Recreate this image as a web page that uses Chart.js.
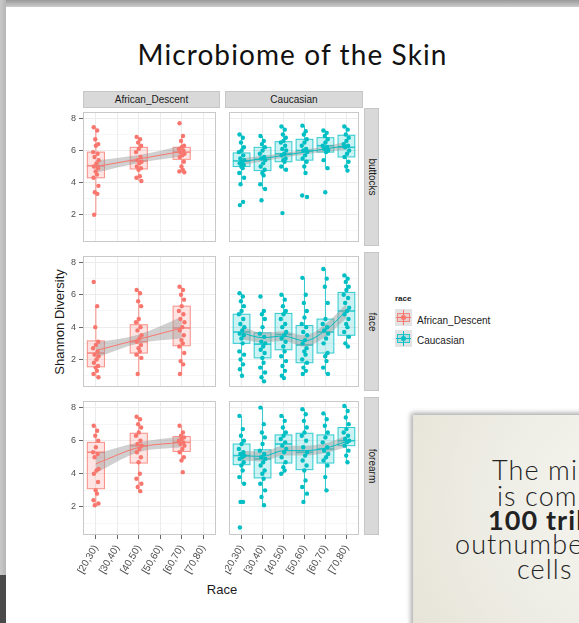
<!DOCTYPE html>
<html>
<head>
<meta charset="utf-8">
<script src="https://cdn.jsdelivr.net/npm/chart.js@4.4.1/dist/chart.umd.min.js"></script>
<style>
body{margin:0;width:579px;height:623px;overflow:hidden;background:#fff;position:relative;font-family:"Liberation Sans",Arial,sans-serif}
.abs{position:absolute}
canvas{position:absolute}
#frameTop{left:0;top:0;width:579px;height:7px;background:linear-gradient(to bottom,#9a9a9a,#cdcdcd)}
#frameLeft{left:0;top:0;width:6px;height:575px;background:linear-gradient(to right,#c9c9c9,#b5b5b5)}
#frameDark{left:0;top:575px;width:6px;height:48px;background:#4a4a4a}
#title{left:6px;top:39px;width:573px;text-align:center;font-family:Lato,"Noto Sans",sans-serif;font-size:28px;line-height:30px;color:#111;letter-spacing:1.1px}
.strip{background:#d9d9d9;border:1px solid #c6c6c6;box-sizing:border-box;color:#1a1a1a;font-size:10px;text-align:center}
.colstrip{height:17px;line-height:15px}
.rowstrip{width:15px}
.rowstrip span{position:absolute;left:50%;top:50%;transform:translate(-50%,-50%) rotate(90deg);white-space:nowrap}
.axtitle{color:#1a1a1a;font-size:13px;white-space:nowrap}
.lkey{width:17px;height:17px;background:#e3e3e3}
.lkey div{position:absolute}
.ltext{font-size:10px;color:#1a1a1a;white-space:nowrap}
#note{left:413px;top:415px;width:180px;height:220px;background:radial-gradient(circle at 120% 40%,#f5f4ef 0%,#eeede5 55%,#e6e4d7 100%);box-shadow:-2px -2px 5px rgba(0,0,0,0.35);overflow:hidden}
#note div{position:absolute;white-space:nowrap;font-family:Lato,"Noto Sans",sans-serif;font-weight:300;font-size:27px;line-height:26px;color:#222;letter-spacing:1.1px}
</style>
</head>
<body>
<div id="frameTop" class="abs"></div>
<div id="frameLeft" class="abs"></div>
<div id="frameDark" class="abs"></div>
<div id="title" class="abs">Microbiome of the Skin</div>

<div class="abs strip colstrip" style="left:83px;top:91px;width:137px">African_Descent</div>
<div class="abs strip colstrip" style="left:225px;top:91px;width:138px">Caucasian</div>
<div class="abs strip rowstrip" style="left:364px;top:108px;height:138px"><span>buttocks</span></div>
<div class="abs strip rowstrip" style="left:364px;top:252px;height:139px"><span>face</span></div>
<div class="abs strip rowstrip" style="left:364px;top:397px;height:138px"><span>forearm</span></div>

<div class="abs axtitle" style="left:59px;top:322px;transform:translate(-50%,-50%) rotate(-90deg)">Shannon Diversity</div>
<div class="abs axtitle" style="left:222px;top:589px;transform:translate(-50%,-50%)">Race</div>

<div class="abs ltext" style="left:395px;top:294px;font-size:8px;font-weight:bold">race</div>
<div id="key1" class="abs lkey" style="left:395px;top:309px"></div>
<div class="abs ltext" style="left:417px;top:315px">African_Descent</div>
<div id="key2" class="abs lkey" style="left:395px;top:330px"></div>
<div class="abs ltext" style="left:417px;top:335px">Caucasian</div>

<canvas id="p1" width="157" height="138" style="left:63px;top:108px"></canvas>
<canvas id="p2" width="138" height="138" style="left:225px;top:108px"></canvas>
<canvas id="p3" width="157" height="139" style="left:63px;top:252px"></canvas>
<canvas id="p4" width="138" height="139" style="left:225px;top:252px"></canvas>
<canvas id="p5" width="157" height="186" style="left:63px;top:397px"></canvas>
<canvas id="p6" width="138" height="186" style="left:225px;top:397px"></canvas>

<div id="note" class="abs">
  <div style="left:79px;top:42px">The microbiome</div>
  <div style="left:84px;top:68px">is composed of</div>
  <div style="left:75px;top:92px;font-weight:bold">100 trillion cells</div>
  <div style="left:42px;top:116px">outnumber human</div>
  <div style="left:104px;top:141px">cells 10 to 1</div>
</div>

<script>
// age groups on the x axis
var ages = ['[20,30)', '[30,40)', '[40,50)', '[50,60)', '[60,70)', '[70,80)'];

// raw Shannon values per age group (null = no samples)
var afrButtocksPts = [
    [7.45, 7.25, 6.7, 6.4, 6.3, 5.9, 5.8, 5.6, 5.4, 5.2, 5.0, 4.9, 4.7, 4.5, 4.3, 3.8, 3.4, 3.3, 2.0],
    null,
    [6.85, 6.7, 6.5, 6.3, 6.1, 5.9, 5.6, 5.4, 5.3, 5.2, 5.0, 4.9, 4.8, 4.4, 4.3, 4.1],
    null,
    [7.7, 6.9, 6.6, 6.3, 6.2, 6.1, 6.0, 5.9, 5.8, 5.7, 5.6, 5.3, 5.0, 4.8, 4.7, 4.65],
    null
];
var cauButtocksPts = [
    [7.0, 6.8, 6.5, 6.2, 6.0, 5.9, 5.7, 5.5, 5.4, 5.3, 5.2, 5.1, 5.0, 4.9, 4.6, 4.3, 3.9, 2.8, 2.6],
    [6.9, 6.6, 6.4, 6.2, 6.0, 5.8, 5.6, 5.5, 5.4, 5.2, 5.0, 4.8, 4.6, 4.45, 3.9, 3.6, 2.9],
    [7.5, 7.3, 7.0, 6.8, 6.6, 6.5, 6.3, 6.1, 6.0, 5.8, 5.7, 5.5, 5.4, 5.3, 5.0, 4.8, 2.1],
    [7.55, 7.2, 7.0, 6.7, 6.5, 6.3, 6.1, 6.0, 5.9, 5.7, 5.5, 5.3, 5.0, 4.6, 3.2, 3.1],
    [7.25, 7.1, 6.9, 6.7, 6.5, 6.3, 6.2, 6.1, 6.0, 5.9, 5.4, 4.9, 3.4],
    [7.5, 7.3, 7.0, 6.8, 6.6, 6.4, 6.3, 6.2, 6.0, 5.8, 5.6, 5.3, 5.0, 4.75]
];
var afrFacePts = [
    [6.8, 5.3, 4.0, 3.1, 2.9, 2.7, 2.5, 2.3, 2.2, 2.0, 1.8, 1.6, 1.5, 1.3, 1.1, 0.9],
    null,
    [6.3, 6.1, 5.6, 5.3, 4.5, 4.3, 4.0, 3.8, 3.5, 3.3, 3.1, 2.9, 2.7, 2.5, 2.3, 2.1, 1.1],
    null,
    [6.5, 6.3, 6.0, 5.7, 5.3, 5.0, 4.8, 4.5, 4.3, 4.0, 3.8, 3.5, 3.2, 3.0, 2.8, 2.4, 1.9, 1.7, 1.1],
    null
];
var cauFacePts = [
    [6.1, 5.9, 5.6, 5.3, 5.0, 4.8, 4.5, 4.2, 4.0, 3.8, 3.6, 3.5, 3.3, 3.0, 2.5, 2.3, 2.0, 1.7, 1.4, 1.0],
    [5.9, 5.0, 4.8, 4.5, 4.0, 3.6, 3.4, 3.1, 3.0, 2.8, 2.6, 2.4, 2.1, 1.8, 1.5, 1.2, 0.9, 0.65],
    [6.0, 5.7, 5.3, 5.0, 4.8, 4.5, 4.2, 4.0, 3.7, 3.5, 3.3, 3.1, 2.8, 2.5, 2.2, 1.9, 1.6, 1.3, 1.0, 0.85],
    [7.05, 6.0, 5.5, 5.0, 4.6, 4.2, 4.0, 3.7, 3.5, 3.2, 3.0, 2.7, 2.5, 2.3, 2.0, 1.8, 1.5, 1.3, 1.1],
    [7.6, 7.0, 6.5, 5.5, 4.5, 4.2, 4.0, 3.8, 3.6, 3.3, 3.0, 2.4, 2.2, 1.9, 1.5, 1.1],
    [7.2, 7.0, 6.8, 6.5, 6.3, 6.0, 5.8, 5.5, 5.2, 5.0, 4.8, 4.5, 4.2, 4.0, 3.7, 3.4, 3.0, 2.8]
];
var afrForearmPts = [
    [6.9, 6.6, 6.3, 6.0, 5.6, 5.3, 5.2, 5.0, 4.3, 4.2, 4.0, 3.5, 3.0, 2.8, 2.4, 2.2, 2.1],
    null,
    [7.45, 7.3, 7.0, 6.8, 6.5, 6.3, 6.0, 5.8, 5.7, 5.5, 5.3, 5.0, 4.7, 4.0, 3.7, 3.4, 3.2, 2.95],
    null,
    [6.9, 6.5, 6.3, 6.2, 6.1, 6.0, 5.9, 5.8, 5.7, 5.5, 5.3, 5.0, 4.8, 4.1],
    null
];
var cauForearmPts = [
    [7.5, 6.7, 6.3, 6.0, 5.8, 5.5, 5.3, 5.2, 5.1, 5.0, 4.9, 4.7, 4.5, 4.2, 3.8, 3.4, 2.3, 2.3, 0.75],
    [8.0, 7.0, 6.5, 6.2, 5.8, 5.4, 5.2, 5.0, 4.9, 4.7, 4.5, 4.2, 4.0, 3.7, 3.4, 3.0, 2.6, 2.1],
    [7.5, 7.2, 6.8, 6.5, 6.3, 6.1, 5.9, 5.7, 5.5, 5.3, 5.0, 4.7, 4.4, 4.2, 4.0],
    [7.9, 7.6, 7.2, 6.8, 6.5, 6.3, 6.0, 5.6, 5.3, 5.1, 4.8, 4.5, 4.2, 3.6, 3.2, 2.8, 2.3],
    [7.65, 7.3, 6.9, 6.5, 6.2, 5.9, 5.6, 5.4, 5.2, 5.0, 4.8, 4.5, 3.8, 3.0],
    [8.1, 7.8, 7.4, 7.0, 6.7, 6.5, 6.3, 6.1, 6.0, 5.9, 5.7, 5.4, 5.1, 4.7]
];

// box stats per age group: [whisker low, q1, median, q3, whisker high]
var afrButtocksBox = [[2.0, 4.3, 5.05, 5.9, 7.45], null, [4.1, 4.85, 5.35, 6.2, 6.85], null, [4.65, 5.45, 5.9, 6.2, 6.9], null];
var cauButtocksBox = [[3.9, 5.0, 5.35, 5.85, 7.0], [3.6, 4.75, 5.45, 6.2, 6.9], [4.75, 5.3, 5.8, 6.55, 7.5],
    [4.55, 5.4, 6.0, 6.7, 7.55], [4.9, 5.9, 6.3, 6.8, 7.25], [4.75, 5.6, 6.2, 6.95, 7.5]];
var afrFaceBox = [[0.9, 1.55, 2.4, 3.15, 5.3], null, [1.1, 2.4, 3.1, 4.15, 6.3], null, [1.1, 2.85, 3.95, 5.3, 6.5], null];
var cauFaceBox = [[1.0, 3.0, 3.7, 4.8, 6.1], [0.65, 2.1, 2.95, 3.65, 5.0], [0.85, 2.6, 3.55, 4.85, 6.0],
    [1.1, 1.8, 2.9, 4.1, 7.05], [1.1, 2.4, 3.7, 4.5, 7.6], [2.8, 3.5, 5.0, 6.15, 7.2]];
var afrForearmBox = [[2.1, 3.1, 5.3, 5.9, 6.9], null, [2.95, 4.65, 5.7, 6.45, 7.45], null, [4.8, 5.35, 5.9, 6.25, 6.9], null];
var cauForearmBox = [[3.4, 4.55, 5.1, 5.8, 7.5], [2.1, 3.75, 4.9, 5.45, 8.0], [4.0, 4.65, 5.8, 6.35, 7.5],
    [2.3, 4.25, 5.3, 6.45, 7.9], [3.0, 4.65, 5.5, 6.35, 7.65], [4.7, 5.7, 6.0, 6.8, 8.1]];

// smoothed trend with its confidence band
var afrButtocksFit = [5.0, null, 5.47, null, 5.95, null];
var afrButtocksLo  = [4.62, null, 5.22, null, 5.62, null];
var afrButtocksHi  = [5.38, null, 5.72, null, 6.28, null];
var cauButtocksFit = [5.3, 5.5, 5.7, 5.9, 6.1, 6.3];
var cauButtocksLo  = [5.08, 5.33, 5.55, 5.75, 5.93, 6.05];
var cauButtocksHi  = [5.52, 5.67, 5.85, 6.05, 6.27, 6.55];
var afrFaceFit = [2.55, null, 3.25, null, 3.95, null];
var afrFaceLo  = [2.1, null, 3.0, null, 3.3, null];
var afrFaceHi  = [3.05, null, 3.55, null, 4.65, null];
var cauFaceFit = [3.65, 3.35, 3.45, 3.15, 3.8, 5.0];
var cauFaceLo  = [3.25, 3.05, 3.15, 2.8, 3.4, 4.55];
var cauFaceHi  = [4.05, 3.65, 3.75, 3.5, 4.2, 5.45];
var afrForearmFit = [4.6, null, 5.6, null, 5.9, null];
var afrForearmLo  = [4.05, null, 5.3, null, 5.6, null];
var afrForearmHi  = [5.2, null, 5.9, null, 6.25, null];
var cauForearmFit = [5.1, 5.05, 5.4, 5.4, 5.55, 5.95];
var cauForearmLo  = [4.8, 4.75, 5.1, 5.1, 5.25, 5.6];
var cauForearmHi  = [5.4, 5.35, 5.7, 5.7, 5.85, 6.3];

var COLORS = {
    afr: {main: '#F8766D', fill: 'rgba(248,118,109,0.2)', edge: 'rgba(248,118,109,0.8)'},
    cau: {main: '#00BFC4', fill: 'rgba(0,191,196,0.2)', edge: 'rgba(0,191,196,0.8)'}
};
// fixed horizontal spread of points (instead of random jitter)
var JIT = [-0.1, 0.06, -0.03, 0.11, 0.0, -0.13, 0.08, -0.06, 0.13, 0.03, -0.09, 0.1, -0.01, 0.05, -0.11, 0.12, -0.05, 0.07, -0.08, 0.02];
var FONT = '"Liberation Sans", Arial, sans-serif';

var boxPlugin = {
    id: 'boxes',
    beforeDatasetsDraw: function(chart, args, opts){
        var ctx = chart.ctx;
        var xs = chart.scales.x, ys = chart.scales.y;
        ctx.save();
        opts.stats.forEach(function(s, i){
            if(!s) return;
            var cx = xs.getPixelForValue(i);
            var hw = xs.getPixelForValue(i + 0.4) - cx;
            var lo = ys.getPixelForValue(s[0]), q1 = ys.getPixelForValue(s[1]);
            var med = ys.getPixelForValue(s[2]), q3 = ys.getPixelForValue(s[3]);
            var hi = ys.getPixelForValue(s[4]);
            ctx.fillStyle = opts.fill;
            ctx.fillRect(cx - hw, q3, hw * 2, q1 - q3);
            ctx.strokeStyle = opts.edge;
            ctx.lineWidth = 1;
            ctx.strokeRect(cx - hw, q3, hw * 2, q1 - q3);
            ctx.beginPath();
            ctx.moveTo(cx, q1); ctx.lineTo(cx, lo);
            ctx.moveTo(cx, q3); ctx.lineTo(cx, hi);
            ctx.stroke();
            ctx.lineWidth = 1.6;
            ctx.beginPath();
            ctx.moveTo(cx - hw, med); ctx.lineTo(cx + hw, med);
            ctx.stroke();
        });
        ctx.restore();
    }
};

var borderPlugin = {
    id: 'panelBorder',
    afterDraw: function(chart){
        var a = chart.chartArea, ctx = chart.ctx;
        ctx.save();
        ctx.strokeStyle = '#c9c9c9';
        ctx.lineWidth = 1;
        ctx.strokeRect(a.left + 0.5, a.top + 0.5, a.right - a.left - 1, a.bottom - a.top - 1);
        ctx.restore();
    }
};

function toPoints(list)
{
    var out = [];
    list.forEach(function(v, i){
        if(v !== null) out.push({x: i, y: v});
    });
    return out;
}

function jittered(groups)
{
    var out = [];
    groups.forEach(function(g, i){
        if(!g) return;
        g.forEach(function(v, k){
            out.push({x: i + JIT[k % JIT.length], y: v});
        });
    });
    return out;
}

function drawPanel(id, race, pts, box, fit, lo, hi, showX, showY)
{
    var c = COLORS[race];
    new Chart(document.getElementById(id), {
        type: 'scatter',
        data: {
            datasets: [
                {data: jittered(pts), backgroundColor: c.main, borderWidth: 0, pointRadius: 2.2},
                {type: 'line', data: toPoints(fit), borderColor: c.main, borderWidth: 1, pointRadius: 0,
                    cubicInterpolationMode: 'monotone', fill: false},
                {type: 'line', data: toPoints(hi), borderWidth: 0, borderColor: 'rgba(0,0,0,0)', pointRadius: 0,
                    cubicInterpolationMode: 'monotone', fill: {target: 3}, backgroundColor: 'rgba(150,150,150,0.45)'},
                {type: 'line', data: toPoints(lo), borderWidth: 0, borderColor: 'rgba(0,0,0,0)', pointRadius: 0,
                    cubicInterpolationMode: 'monotone', fill: false}
            ]
        },
        options: {
            responsive: false,
            animation: false,
            layout: {padding: 0},
            plugins: {
                legend: {display: false},
                tooltip: {enabled: false},
                boxes: {stats: box, fill: c.fill, edge: c.edge}
            },
            scales: {
                x: {
                    type: 'linear', min: -0.6, max: 5.6,
                    afterBuildTicks: function(scale){
                        scale.ticks = ages.map(function(a, i){ return {value: i}; });
                    },
                    afterFit: function(scale){
                        scale.height = showX ? 48 : 0;
                        scale.paddingLeft = 0; scale.paddingRight = 0;
                    },
                    grid: {color: '#ececec', lineWidth: 1, drawTicks: showX, tickLength: 4, tickColor: '#666'},
                    border: {display: false},
                    ticks: {
                        display: showX, autoSkip: false, minRotation: 60, maxRotation: 60, padding: 4,
                        color: '#4d4d4d', font: {family: FONT, size: 10},
                        callback: function(v){ return ages[v]; }
                    }
                },
                y: {
                    min: 0.3, max: 8.4,
                    afterBuildTicks: function(scale){
                        scale.ticks = [1, 2, 3, 4, 5, 6, 7, 8].map(function(v){ return {value: v}; });
                    },
                    afterFit: function(scale){
                        scale.width = showY ? 20 : 0;
                        scale.paddingTop = 0; scale.paddingBottom = 0;
                    },
                    grid: {
                        color: '#ececec', drawTicks: showY, tickLength: 4,
                        lineWidth: function(ctx){ return ctx.tick && ctx.tick.value % 2 ? 0.5 : 1; },
                        tickColor: function(ctx){ return ctx.tick && ctx.tick.value % 2 ? 'rgba(0,0,0,0)' : '#666'; }
                    },
                    border: {display: false},
                    ticks: {
                        display: showY, padding: 3, color: '#4d4d4d', font: {family: FONT, size: 9},
                        callback: function(v){ return v % 2 ? '' : String(v); }
                    }
                }
            }
        },
        plugins: [boxPlugin, borderPlugin]
    });
}

function drawKey(id, race)
{
    var c = COLORS[race];
    var key = document.getElementById(id);
    key.innerHTML =
        '<div style="left:8px;top:1px;width:1px;height:15px;background:' + c.main + '"></div>' +
        '<div style="left:2px;top:4px;width:11px;height:7px;border:1px solid ' + c.edge + ';background:' + c.fill + '"></div>' +
        '<div style="left:1px;top:8px;width:15px;height:1px;background:' + c.main + '"></div>' +
        '<div style="left:6px;top:6px;width:5px;height:5px;border-radius:50%;background:' + c.main + '"></div>';
}

drawPanel('p1', 'afr', afrButtocksPts, afrButtocksBox, afrButtocksFit, afrButtocksLo, afrButtocksHi, false, true);
drawPanel('p2', 'cau', cauButtocksPts, cauButtocksBox, cauButtocksFit, cauButtocksLo, cauButtocksHi, false, false);
drawPanel('p3', 'afr', afrFacePts, afrFaceBox, afrFaceFit, afrFaceLo, afrFaceHi, false, true);
drawPanel('p4', 'cau', cauFacePts, cauFaceBox, cauFaceFit, cauFaceLo, cauFaceHi, false, false);
drawPanel('p5', 'afr', afrForearmPts, afrForearmBox, afrForearmFit, afrForearmLo, afrForearmHi, true, true);
drawPanel('p6', 'cau', cauForearmPts, cauForearmBox, cauForearmFit, cauForearmLo, cauForearmHi, true, false);
drawKey('key1', 'afr');
drawKey('key2', 'cau');
</script>
</body>
</html>
